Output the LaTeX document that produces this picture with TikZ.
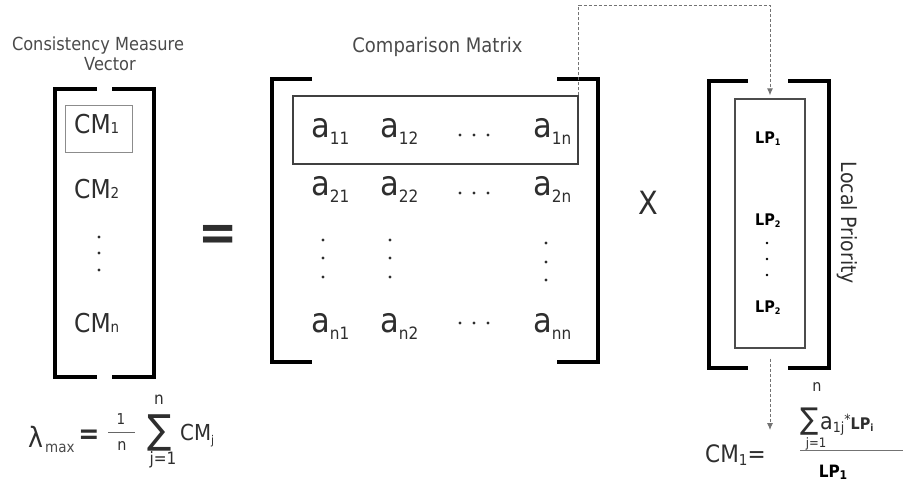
\documentclass[tikz,border=0pt]{standalone}
\usepackage{fontspec}
\setmainfont{DejaVu Sans}[FakeStretch=0.9]
\usetikzlibrary{arrows.meta}
\newcommand\fsz[1]{\fontsize{#1}{#1}\selectfont}
\newcommand\aent[1]{{\fsz{34}a}{\fsz{17}\raisebox{-7pt}{#1}}}
\newcommand\cment[1]{{\fsz{26}CM}{\fsz{15}#1}}
\newcommand\lpent[1]{{\bfseries\fsz{16}LP}{\bfseries\fsz{9}\raisebox{-2pt}{#1}}}
\definecolor{lblgray}{HTML}{4A4A4A}
\definecolor{entgray}{HTML}{2E2E2E}
\begin{document}
\begin{tikzpicture}[x=1pt,y=-1pt,
  brk/.style={line width=4pt, line join=miter, draw=black},
  conn/.style={draw=black!55, line width=0.9pt, dash pattern=on 3pt off 2pt,
    -{Latex[length=7pt,width=6pt]}},
  txt/.style={inner sep=0pt, text=entgray},
  lbl/.style={inner sep=0pt, text=lblgray},
  dotc/.style={fill=entgray}]
\useasboundingbox (0,0) rectangle (911,483);

% brackets
\draw[brk] (97,89) -| (55,377) -- (97,377);
\draw[brk] (112,89) -| (154,377) -- (112,377);
\draw[brk] (312,79) -| (272,362) -- (312,362);
\draw[brk] (557,79) -| (598,362) -- (557,362);
\draw[brk] (748,81) -| (709,368) -- (748,368);
\draw[brk] (788,81) -| (829,368) -- (788,368);

% boxes
\node[draw=black!45, line width=1pt, minimum width=67pt, minimum height=47pt, inner sep=0pt] (cmbox) at (98.5,128.5) {};
\node[draw=black!75, line width=1.5pt, minimum width=285pt, minimum height=68pt, inner sep=0pt] (rowbox) at (435.5,130) {};
\node[draw=black!70, line width=1.3pt, minimum width=70pt, minimum height=249pt, inner sep=0pt] (lpbox) at (770,223.5) {};

% titles
\node[lbl, anchor=base] (t1) at (98,50) {\fsz{18}Consistency Measure};
\node[lbl, anchor=base] (t2) at (110,70) {\fsz{18}Vector};
\node[lbl, anchor=base] (t3) at (437.5,52) {\fsz{20}Comparison Matrix};
\node[txt, rotate=-90] (t4) at (847,223) {\fsz{21}Local Priority};

% CM vector
\node[txt, anchor=base west] (cm1) at (74,133) {\cment{1}};
\node[txt, anchor=base west] (cm2) at (74,198) {\cment{2}};
\node[txt, anchor=base west] (cmn) at (74,332) {\cment{n}};
\foreach \y in {237,253,270} \fill[dotc] (99,\y) circle (1.7pt);

% equals and times
\node[txt] (eq) at (218,238) {\bfseries\fsz{52}=};
\node[txt] (times) at (648,203) {\fsz{32}X};

% matrix entries
\node[txt, anchor=base west] (a11) at (311,137) {\aent{11}};
\node[txt, anchor=base west] (a12) at (380,137) {\aent{12}};
\node[txt, anchor=base west] (a1n) at (533,137) {\aent{1n}};
\node[txt, anchor=base west] (a21) at (311,195) {\aent{21}};
\node[txt, anchor=base west] (a22) at (380,195) {\aent{22}};
\node[txt, anchor=base west] (a2n) at (533,195) {\aent{2n}};
\node[txt, anchor=base west] (an1) at (311,332) {\aent{n1}};
\node[txt, anchor=base west] (an2) at (380,332) {\aent{n2}};
\node[txt, anchor=base west] (ann) at (533,332) {\aent{nn}};
\foreach \y in {135,193,323} \foreach \x in {460,474,488} \fill[dotc] (\x,\y) circle (1.6pt);
\foreach \y in {240,258,277} {\fill[dotc] (323,\y) circle (1.6pt); \fill[dotc] (390,\y) circle (1.6pt);}
\foreach \y in {243,262,280} \fill[dotc] (546,\y) circle (1.6pt);

% LP entries
\node[inner sep=0pt, anchor=base west] (lp1) at (755,143) {\lpent{1}};
\node[inner sep=0pt, anchor=base west] (lp2) at (755,225) {\lpent{2}};
\node[inner sep=0pt, anchor=base west] (lpn) at (755,312) {\lpent{2}};
\foreach \y in {243,259,275} \fill (767,\y) circle (1.4pt);

% connectors
\draw[conn, shorten >=3pt] (rowbox.north east) -- (rowbox.north east |- 0,5) -| (lpbox.north);
\coordinate (arrend) at (767,430);
\draw[conn] ([yshift=-10pt]lpbox.south) -- (lpbox.south |- arrend);

% lambda formula
\node[txt, anchor=base west] (lam) at (28,447) {\fsz{28}λ};
\node[lbl, anchor=base west] (lmax) at (45,452) {\fsz{15}max};
\node[txt] (leq) at (89,437) {\bfseries\fsz{28}=};
\node[txt] (l1) at (121,419) {\fsz{15}1};
\draw[black!60, line width=0.8pt] (108,432) -- (135,432);
\node[txt] (ln) at (122,446) {\fsz{16}n};
\node[txt] (lsum) at (160,433) {\fsz{40}∑};
\node[txt] (lsn) at (159,400) {\fsz{17}n};
\node[txt] (lsj) at (163,460) {\fsz{17}j=1};
\node[txt, anchor=base west] (lcm) at (180,440) {\fsz{22}CM{\fsz{12}\raisebox{-4pt}{j}}};

% CM1 formula
\node[txt, anchor=base west] (cmf) at (705,462) {\fsz{24}CM{\fsz{15}\raisebox{-3pt}{1}}=};
\node[txt, anchor=base] (fsum) at (810,429) {\fsz{30}∑};
\node[txt] (fsn) at (817,387) {\fsz{16}n};
\node[txt, anchor=north] (fsj) at (816,437) {\fsz{13}j=1};
\node[txt, anchor=base west] (fnum) at (820,429) {\fsz{23}a{\fsz{14}\raisebox{-3pt}{1j}}{\fsz{14}\raisebox{5pt}{*}}{\bfseries\fsz{16}LP{\fsz{10}\raisebox{-2pt}{i}}}};
\draw[black!55, line width=0.8pt] (800,450) -- (903,450);
\node[inner sep=0pt] (fden) at (833,472) {\bfseries\fsz{17}LP{\fsz{12}\raisebox{-2pt}{1}}};
\end{tikzpicture}
\end{document}
